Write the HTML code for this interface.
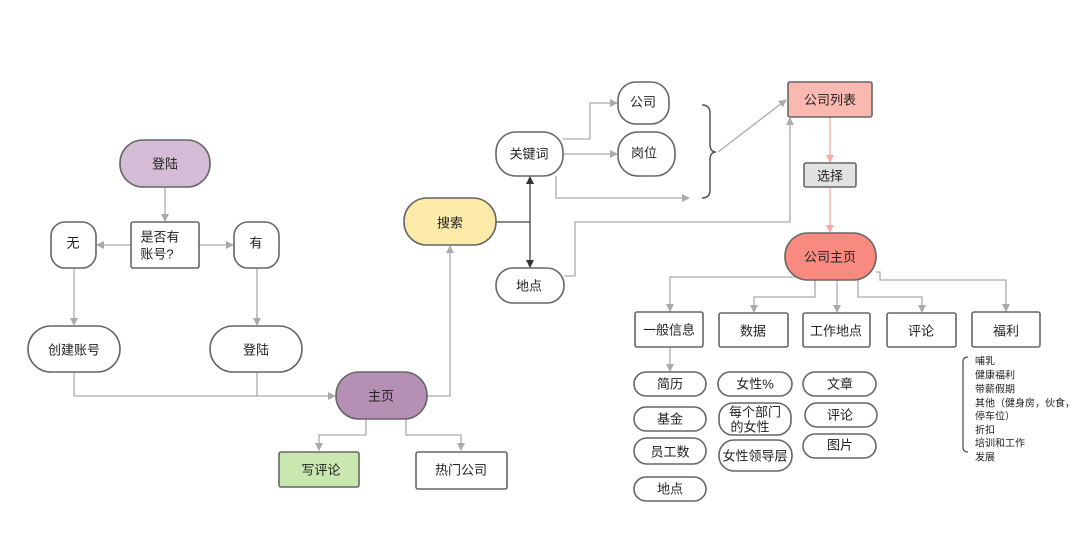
<!DOCTYPE html>
<html><head><meta charset="utf-8"><style>
html,body{margin:0;padding:0;background:#fff;}
svg{display:block;font-family:"Liberation Sans","Noto Sans CJK SC",sans-serif;}
text{font-size:13px;fill:#222;text-anchor:middle;dominant-baseline:central;}
.b{stroke:#666;stroke-width:1.6;fill:#fff;}
.l{stroke:#aaa;stroke-width:1.3;fill:none;}
.d{stroke:#444;stroke-width:1.3;fill:none;}
.p{stroke:#f7a8a8;stroke-width:1.3;fill:none;}
</style></head><body>
<svg width="1080" height="552" viewBox="0 0 1080 552">
<defs>
<marker id="a" markerWidth="8" markerHeight="8" refX="7" refY="4" orient="auto" markerUnits="userSpaceOnUse"><path d="M0,0 L8,4 L0,8 z" fill="#aaa"/></marker>
<marker id="ad" markerWidth="8" markerHeight="8" refX="7" refY="4" orient="auto" markerUnits="userSpaceOnUse"><path d="M0,0 L8,4 L0,8 z" fill="#333"/></marker>
<marker id="ap" markerWidth="8" markerHeight="8" refX="7" refY="4" orient="auto" markerUnits="userSpaceOnUse"><path d="M0,0 L8,4 L0,8 z" fill="#f7a8a8"/></marker>
</defs>
<!-- connectors left -->
<path class="l" d="M165,187 V221" marker-end="url(#a)"/>
<path class="l" d="M131,245 H97" marker-end="url(#a)"/>
<path class="l" d="M199,245 H233" marker-end="url(#a)"/>
<path class="l" d="M74,268 V325" marker-end="url(#a)"/>
<path class="l" d="M257,268 V325" marker-end="url(#a)"/>
<path class="l" d="M74,372 V396 H335" marker-end="url(#a)"/>
<path class="l" d="M257,372 V396"/>
<path class="l" d="M427,396 H450 V246" marker-end="url(#a)"/>
<path class="l" d="M366,419 V435 H319 V450" marker-end="url(#a)"/>
<path class="l" d="M406,419 V435 H461 V450" marker-end="url(#a)"/>
<!-- search -->
<path class="d" d="M496,222 H530"/>
<path class="d" d="M530,222 V177" marker-end="url(#ad)"/>
<path class="d" d="M530,222 V267" marker-end="url(#ad)"/>
<path class="l" d="M563,139 H590 V103 H617" marker-end="url(#a)"/>
<path class="l" d="M563,154 H617" marker-end="url(#a)"/>
<path class="l" d="M556,176 V198 H689" marker-end="url(#a)"/>
<path d="M702,105 Q710,105 710,113 V144 Q710,152 716,152 Q710,152 710,160 V190 Q710,198 702,198" fill="none" stroke="#555" stroke-width="1.5"/>
<path class="l" d="M718,152 L786,100" marker-end="url(#a)"/>
<path class="l" d="M564,276 H575 V222 H790 V118" marker-end="url(#a)"/>
<path class="p" d="M830,117 V162" marker-end="url(#ap)"/>
<path class="p" d="M830,187 V232" marker-end="url(#ap)"/>
<!-- company page branches -->
<path class="l" d="M800,277 H670 V311" marker-end="url(#a)"/>
<path class="l" d="M815,280 V297 H754 V312" marker-end="url(#a)"/>
<path class="l" d="M837,280 V312" marker-end="url(#a)"/>
<path class="l" d="M858,280 V297 H922 V312" marker-end="url(#a)"/>
<path class="l" d="M876,272 H880 V280 H1006 V311" marker-end="url(#a)"/>
<path class="l" d="M670,347 V371" marker-end="url(#a)"/>
<!-- nodes left -->
<rect class="b" x="120" y="140" width="90" height="47" rx="23" fill="#d5bcd6" style="fill:#d5bcd6"/><text x="165" y="164">登陆</text>
<rect class="b" x="131" y="222" width="68" height="46" rx="2"/><text x="160" y="237">是否有</text><text x="157" y="254">账号?</text>
<rect class="b" x="51" y="222" width="45" height="46" rx="14"/><text x="73" y="243">无</text>
<rect class="b" x="234" y="222" width="45" height="46" rx="14"/><text x="256" y="243">有</text>
<rect class="b" x="28" y="326" width="92" height="46" rx="23"/><text x="74" y="350">创建账号</text>
<rect class="b" x="210" y="326" width="92" height="46" rx="23"/><text x="256" y="350">登陆</text>
<rect class="b" x="336" y="372" width="91" height="47" rx="23" style="fill:#b58fb4"/><text x="381" y="396">主页</text>
<rect class="b" x="404" y="198" width="92" height="47" rx="23" style="fill:#fbeaa8"/><text x="450" y="223">搜索</text>
<rect class="b" x="279" y="452" width="80" height="35" rx="2" style="fill:#c8e8b0"/><text x="321" y="470">写评论</text>
<rect class="b" x="416" y="452" width="91" height="37" rx="2"/><text x="461" y="470">热门公司</text>
<!-- search nodes -->
<rect class="b" x="496" y="132" width="67" height="44" rx="20"/><text x="529" y="154">关键词</text>
<rect class="b" x="618" y="82" width="51" height="42" rx="18"/><text x="643" y="102">公司</text>
<rect class="b" x="618" y="132" width="57" height="44" rx="20"/><text x="644" y="153">岗位</text>
<rect class="b" x="496" y="268" width="68" height="35" rx="17"/><text x="529" y="286">地点</text>
<rect class="b" x="788" y="82" width="84" height="35" rx="2" style="fill:#f9b8b0"/><text x="830" y="100">公司列表</text>
<rect class="b" x="804" y="163" width="52" height="24" rx="2" style="fill:#e2e2e2"/><text x="830" y="176">选择</text>
<rect class="b" x="785" y="233" width="91" height="47" rx="23" style="fill:#f88a80"/><text x="830" y="257">公司主页</text>
<!-- categories -->
<rect class="b" x="635" y="312" width="68" height="35" rx="2"/><text x="669" y="330">一般信息</text>
<rect class="b" x="719" y="313" width="69" height="34" rx="2"/><text x="753" y="331">数据</text>
<rect class="b" x="803" y="313" width="67" height="34" rx="2"/><text x="836" y="331">工作地点</text>
<rect class="b" x="887" y="313" width="69" height="34" rx="2"/><text x="921" y="331">评论</text>
<rect class="b" x="972" y="312" width="68" height="35" rx="2"/><text x="1006" y="331">福利</text>
<!-- subitems -->
<rect class="b" x="634" y="372" width="72" height="24" rx="12"/><text x="670" y="384">简历</text>
<rect class="b" x="634" y="407" width="72" height="24" rx="12"/><text x="670" y="419">基金</text>
<rect class="b" x="634" y="438" width="72" height="26" rx="13"/><text x="670" y="452">员工数</text>
<rect class="b" x="634" y="477" width="72" height="24" rx="12"/><text x="670" y="489">地点</text>
<rect class="b" x="718" y="372" width="74" height="24" rx="12"/><text x="755" y="384">女性%</text>
<rect class="b" x="719" y="403" width="72" height="32" rx="14"/><text x="755" y="412">每个部门</text><text x="750" y="427">的女性</text>
<rect class="b" x="719" y="440" width="73" height="31" rx="15"/><text x="755" y="456">女性领导层</text>
<rect class="b" x="803" y="372" width="73" height="24" rx="12"/><text x="840" y="384">文章</text>
<rect class="b" x="805" y="403" width="72" height="24" rx="12"/><text x="840" y="415">评论</text>
<rect class="b" x="803" y="434" width="73" height="24" rx="12"/><text x="840" y="445">图片</text>
<!-- benefits list -->
<path d="M968,357 Q963,357 963,362 V447 Q963,452 968,452" fill="none" stroke="#555" stroke-width="1.3"/>
<g style="font-size:10px">
<text x="975" y="362" style="text-anchor:start;font-size:10px">哺乳</text>
<text x="975" y="376" style="text-anchor:start;font-size:10px">健康福利</text>
<text x="975" y="390" style="text-anchor:start;font-size:10px">带薪假期</text>
<text x="975" y="404" style="text-anchor:start;font-size:10px">其他（健身房，伙食，</text>
<text x="975" y="417" style="text-anchor:start;font-size:10px">停车位）</text>
<text x="975" y="431" style="text-anchor:start;font-size:10px">折扣</text>
<text x="975" y="444" style="text-anchor:start;font-size:10px">培训和工作</text>
<text x="975" y="458" style="text-anchor:start;font-size:10px">发展</text>
</g>
</svg>
</body></html>
